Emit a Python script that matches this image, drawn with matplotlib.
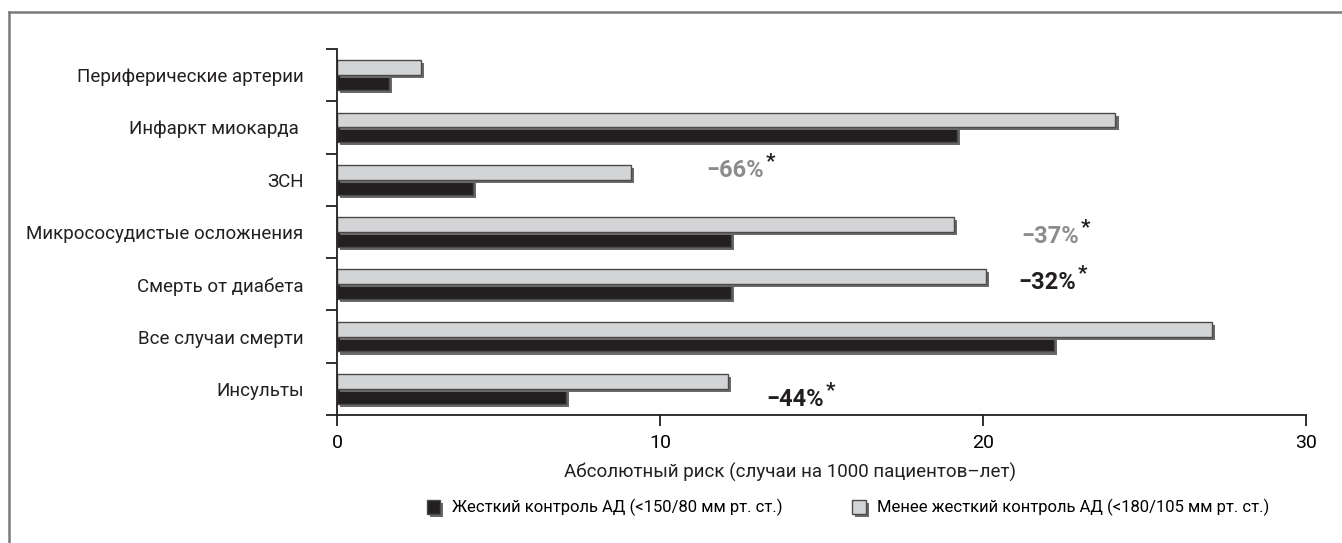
import matplotlib
matplotlib.use("Agg")
import matplotlib.pyplot as plt
import matplotlib.patheffects as pe
import numpy as np

plt.rcParams['font.family'] = ['Liberation Sans Narrow', 'DejaVu Sans Condensed', 'Roboto', 'DejaVu Sans']

# ---------------- data ----------------
categories = ['Периферические артерии', 'Инфаркт миокарда ', 'ЗСН',
              'Микрососудистые осложнения', 'Смерть от диабета',
              'Все случаи смерти', 'Инсульты']
tight = [1.6, 19.2, 4.2, 12.2, 12.2, 22.2, 7.1]       # жесткий контроль
less_tight = [2.6, 24.1, 9.1, 19.1, 20.1, 27.1, 12.1]  # менее жесткий контроль

effect_labels = ['−66%', '−37%', '−32%', '−44%']
effect_x = [11.45, 21.2, 21.1, 13.3]
effect_y = [1.82, 3.08, 3.97, 6.2]
effect_colors = ['#8c8c8c', '#8c8c8c', '#231f20', '#231f20']

legend_labels = ['Жесткий контроль АД (<150/80 мм рт. ст.)',
                 'Менее жесткий контроль АД (<180/105 мм рт. ст.)']

# ---------------- plot ----------------
fig = plt.figure(figsize=(13.42, 5.43), dpi=100)
ax = fig.add_axes([0.2511, 0.2357, 0.7221, 0.6741])

shadow = [pe.SimplePatchShadow(offset=(2.2, -2.2), shadow_rgbFace='#6a6a6a', alpha=1.0), pe.Normal()]

y = np.arange(len(categories))
h = 0.285
b1 = ax.barh(y + h / 2, tight, height=h, color='#231f20', edgecolor='#4a4a4a',
             linewidth=1.0, label=legend_labels[0], path_effects=shadow)
b2 = ax.barh(y - h / 2, less_tight, height=h, color='#d3d4d6', edgecolor='#4a4a4a',
             linewidth=1.0, label=legend_labels[1], path_effects=shadow)

ax.set_xlim(0, 30)
ax.set_ylim(6.5, -0.5)
ax.set_xticks([0, 10, 20, 30])
ax.set_yticks(y)
ax.set_yticklabels(categories, fontsize=13.5, color='#231f20')
ax.tick_params(axis='y', length=0, pad=24)
ax.set_yticks(np.arange(-0.5, 7.0, 1.0), minor=True)
ax.tick_params(axis='y', which='minor', length=8, width=1.3, color='#231f20')
ax.tick_params(axis='x', length=8, width=1.3, color='#231f20', labelsize=14, pad=6)

for s in ['top', 'right']:
    ax.spines[s].set_visible(False)
for s in ['left', 'bottom']:
    ax.spines[s].set_linewidth(1.3)
    ax.spines[s].set_color('#231f20')

ax.set_xlabel('Абсолютный риск (случаи на 1000 пациентов–лет)', fontsize=13.5,
              color='#231f20')
ax.xaxis.set_label_coords(0.468, -0.13)

# relative risk reduction labels with superscript asterisk
for lab, xv, yv, c in zip(effect_labels, effect_x, effect_y, effect_colors):
    t = ax.text(xv, yv, lab, fontsize=17, fontweight='bold', color=c,
                ha='left', va='center')
    ax.annotate('*', xy=(1, 1), xycoords=t, xytext=(1, 5), textcoords='offset points',
                fontsize=15, fontweight='bold', color='#231f20', ha='left', va='top')

fig.legend(handles=[b1, b2], labels=legend_labels, loc='center',
           bbox_to_anchor=(0.632, 0.065), ncol=2, frameon=False, fontsize=12,
           handlelength=0.8, handleheight=0.9, handletextpad=0.7, columnspacing=4.2)

# outer frame (top and left edges)
fig.add_artist(plt.Line2D([0.0067, 0.0067], [0.0, 0.977], color='#7a7a7a', lw=1.8))
fig.add_artist(plt.Line2D([0.0067, 1.0], [0.977, 0.977], color='#7a7a7a', lw=1.8))

fig.savefig('out.png', dpi=100)
